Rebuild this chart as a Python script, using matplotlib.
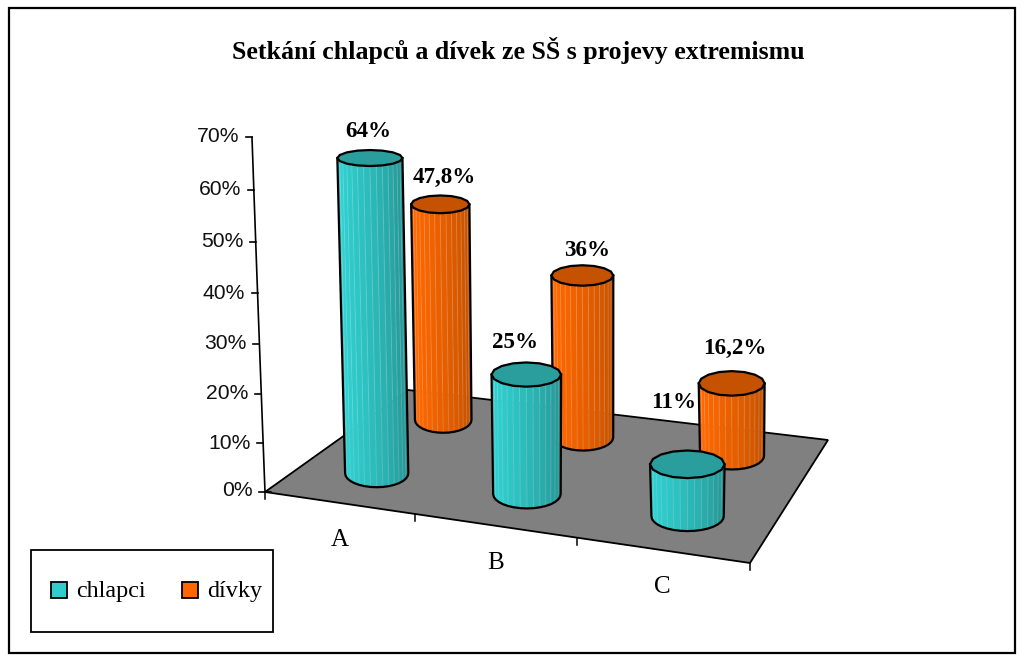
import matplotlib
matplotlib.use('Agg')
import matplotlib.pyplot as plt
from matplotlib.patches import Polygon, Rectangle
import numpy as np

title = 'Setkání chlapců a dívek ze SŠ s projevy extremismu'
categories = ['A', 'B', 'C']
series_names = ['chlapci', 'dívky']
chlapci = [64, 25, 11]
divky = [47.8, 36, 16.2]
chlapci_labels = ['64%', '25%', '11%']
divky_labels = ['47,8%', '36%', '16,2%']
ticks = [0, 10, 20, 30, 40, 50, 60, 70]

# barvy: levy (svetly) okraj, pravy (tmavy) okraj, horni vicko
cyan = ((48, 208, 208), (36, 140, 140), '#2a9d9d', '#33cccc')
orange = ((255, 104, 0), (186, 78, 0), '#c45200', '#ff6600')

# rohy podlahy v pixelech: predni L, predni P, zadni P, zadni L
floor_corners = [(265, 492), (750, 563), (828, 440), (408, 390)]


def homography(corners):
    src = [(0, 0), (3, 0), (3, 1), (0, 1)]
    A = []
    b = []
    for (u, v), (x, y) in zip(src, corners):
        A.append([u, v, 1, 0, 0, 0, -u*x, -v*x])
        A.append([0, 0, 0, u, v, 1, -u*y, -v*y])
        b += [x, y]
    h = np.linalg.solve(np.array(A, float), np.array(b, float))
    return np.append(h, 1).reshape(3, 3)


H = homography(floor_corners)


def floor(u, v):
    p = H @ np.array([u, v, 1.0])
    return p[0]/p[2], p[1]/p[2]


def axis_point(val):
    # svisla osa je mirne naklonena, dilky nahore o neco delsi
    return 265 - 0.186*val, 492 - 4.85*val - 0.0031*val**2


def ell_ry(y):
    return 5 + 0.019*y


def cylinder(ax, u, v, val, col, z):
    light, dark, top_col, _ = col
    xb, yb = floor(u, v)
    r = 0.222 - 0.018*v
    xl, _ = floor(u - r, v)
    xr, _ = floor(u + r, v)
    rx = (xr - xl)/2
    scale = 4.80 - 0.46*v + 0.005*(1 - v)*val
    lean = -0.035 + 0.00012*(xb - 265)
    lean = min(lean, -0.005)
    yt = yb - scale*val
    xt = xb + lean*(yb - yt)
    rb = ell_ry(yb)
    rt = ell_ry(yt)
    n = 16
    t = np.linspace(np.pi, 0, n + 1)
    for i in range(n):
        f = i/(n - 1)
        s = min(1, max(0, (f - 0.12)/0.88)) ** 1.3
        c = [(light[k] + (dark[k] - light[k])*s)/255 for k in range(3)]
        quad = [(xb + rx*np.cos(t[i]), yb + rb*np.sin(t[i])),
                (xb + rx*np.cos(t[i+1]), yb + rb*np.sin(t[i+1])),
                (xt + 1.03*rx*np.cos(t[i+1]), yt + rt*np.sin(t[i+1])),
                (xt + 1.03*rx*np.cos(t[i]), yt + rt*np.sin(t[i]))]
        ax.add_patch(Polygon(quad, fc=c, ec=c, lw=0.3, zorder=z))
        # jemne svetle prouzky mezi plosami
        ax.plot([quad[0][0], quad[3][0]], [quad[0][1], quad[3][1]],
                color='white', lw=0.7, alpha=0.18, zorder=z + 0.1)
    # obrys tela
    body_x = np.r_[xt - 1.03*rx, xb + rx*np.cos(t), xt + 1.03*rx]
    body_y = np.r_[yt, yb + rb*np.sin(t), yt]
    ax.plot(body_x, body_y, color='black', lw=1.6, zorder=z + 0.2)
    # vicko
    a = np.linspace(0, 2*np.pi, 17)
    ax.add_patch(Polygon(np.c_[xt + 1.03*rx*np.cos(a), yt + rt*np.sin(a)],
                         fc=top_col, ec='black', lw=1.6, zorder=z + 0.3))
    return xt, yt


fig = plt.figure(figsize=(10.24, 6.55), dpi=100)
ax = fig.add_axes([0, 0, 1, 1])
ax.set_xlim(0, 1024)
ax.set_ylim(655, 0)
ax.axis('off')

ax.add_patch(Rectangle((9, 8), 1006, 645, fc='white', ec='black', lw=1.6))

ax.text(518, 51, title, family='Liberation Serif', weight='bold',
        fontsize=18.6, ha='center', va='center')

# podlaha
pts = [floor(0, 0), floor(3, 0), floor(3, 1), floor(0, 1)]
ax.add_patch(Polygon(pts, fc='#808080', ec='black', lw=1.3, zorder=1))

# svisla osa
ax.plot([axis_point(w)[0] for w in ticks], [axis_point(w)[1] for w in ticks],
        color='black', lw=1.2, zorder=2)
for val in ticks:
    x, y = axis_point(val)
    ax.plot([x - 6, x + (6 if val == 0 else 0)], [y, y], color='black', lw=1.2, zorder=2)
    ax.text(x - 12.5, y - (1 if val in (0, 70) else 0), f'{val}%', family='Liberation Sans',
            fontsize=15.2, ha='right', va='center', color='#111111')

# osa kategorii
for c in range(4):
    x, y = floor(c, 0)
    ax.plot([x, x], [y, y + 7], color='black', lw=1.1, zorder=2)
for c, name in enumerate(categories):
    x, y = floor(c + 0.5, 0)
    ax.text(x + 1, y + 37, name, family='Liberation Serif', fontsize=18,
            ha='center', va='center')

# valce - nejdriv zadni rada
v_pos = [0.25, 0.76]
u_pos = [0.5, 0.49]
label_dx = [[-2, -11, -14], [4, 5, 3]]
label_dy = [[-27, -32, -62], [-27, -25, -35]]
for s, (vals, labels, col) in reversed(list(enumerate(
        [(chlapci, chlapci_labels, cyan), (divky, divky_labels, orange)]))):
    z = 5 + (1 - s)*5
    for c in range(3):
        xt, yt = cylinder(ax, c + u_pos[s], v_pos[s], vals[c], col, z + c*0.5)
        ax.text(xt + label_dx[s][c], yt + label_dy[s][c], labels[c],
                family='Liberation Serif', weight='bold', fontsize=16.6,
                ha='center', va='center', zorder=20)

# legenda
ax.add_patch(Rectangle((31, 550), 242, 82, fc='white', ec='black', lw=1.3, zorder=3))
for x, name, col in [(51, series_names[0], cyan), (182, series_names[1], orange)]:
    ax.add_patch(Rectangle((x, 582), 16, 16, fc=col[3], ec='black', lw=1.3, zorder=4))
    ax.text(x + 25, 591, name, family='Liberation Serif', fontsize=17.4,
            ha='left', va='center', zorder=4)

fig.savefig('out.png', dpi=100)
